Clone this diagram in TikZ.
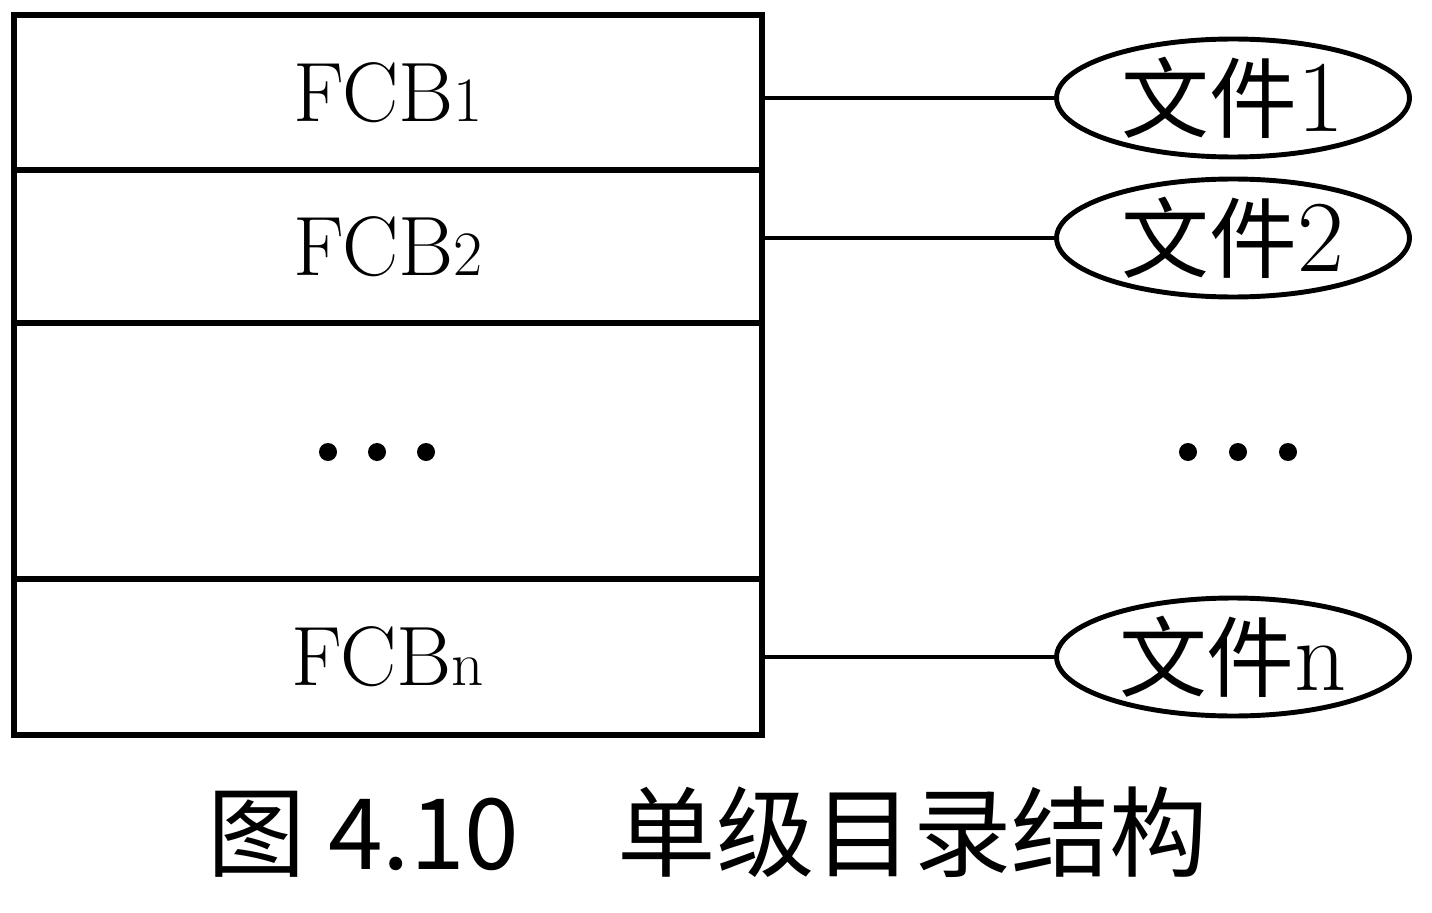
\documentclass[tikz,border=0pt]{standalone}
\usepackage{fontspec}
\newfontfamily\cjk{Noto Sans CJK SC}
\usetikzlibrary{positioning,shapes.geometric}

\newcommand\fcbname[1]{FCB{\fontsize{36}{36}\selectfont #1}}
\newcommand\filename[1]{{\cjk\fontsize{50}{50}\selectfont 文件}{\fontsize{58}{58}\selectfont #1}}

\begin{document}
\begin{tikzpicture}[x=0.02cm,y=-0.02cm,
  row/.style={draw,line width=3.2pt,rectangle,outer sep=0pt,inner sep=0pt,
    minimum width=14.96cm,font=\fontsize{48}{48}\selectfont},
  file/.style={draw,ellipse,line width=2.8pt,inner sep=0pt,
    minimum width=7.06cm,minimum height=2.36cm},
  link/.style={line width=2.4pt}]
   \useasboundingbox (0,0) rectangle (1432,912);
   % directory entries
   \node[row,minimum height=3.1cm] (fcb1) at (388,92.5) {\fcbname{1}};
   \node[row,minimum height=3.06cm] (fcb2) [below=0pt of fcb1] {\fcbname{2}};
   \node[row,minimum height=5.12cm] (more) [below=0pt of fcb2] {};
   \node[row,minimum height=3.12cm] (fcbn) [below=0pt of more] {\fcbname{n}};
   \foreach \x in {328,377,426} \fill (\x,452) circle (9);
   % files
   \node[file] (f1) at (1233,98) {\filename{1}};
   \node[file] (f2) at (1233,238) {\filename{2}};
   \node[file] (fn) at (1233,657) {\filename{n}};
   \foreach \x in {1188,1238,1288} \fill (\x,452) circle (9);
   \draw[link] (fcb1.east |- f1.west) -- (f1.west);
   \draw[link] (fcb2.east |- f2.west) -- (f2.west);
   \draw[link] (fcbn.east |- fn.west) -- (fn.west);
   % caption
   \node (cap) at (708,832) {\cjk\fontsize{56}{56}\selectfont 图 4.10\quad 单级目录结构};
\end{tikzpicture}
\end{document}
